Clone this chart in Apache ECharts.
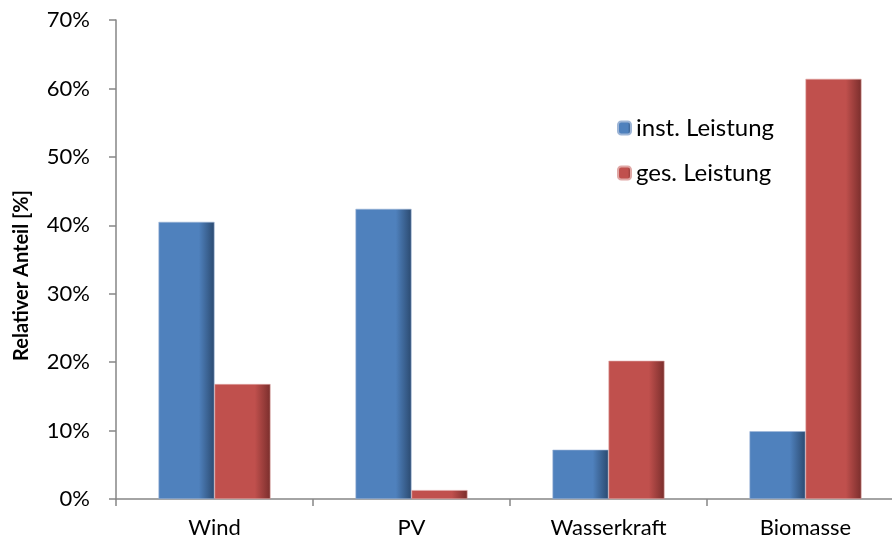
<!DOCTYPE html>
<html>
<head>
<meta charset="utf-8">
<script src="https://cdn.jsdelivr.net/npm/echarts@6/dist/echarts.min.js"></script>
<style>
  html, body { margin: 0; padding: 0; background: #ffffff; overflow: hidden; }
  #chart { width: 910px; height: 547px; }
</style>
</head>
<body>
<div id="chart"></div>
<script>
// Anteile der Energieträger (in %)
const categories = ['Wind', 'PV', 'Wasserkraft', 'Biomasse'];
const instLeistung = [40.5, 42.4, 7.2, 9.9];
const gesLeistung = [16.8, 1.3, 20.2, 61.4];
const seriesNames = ['inst. Leistung', 'ges. Leistung'];
const yTicks = [0, 10, 20, 30, 40, 50, 60, 70];

const FONT = 'Lato';

function shaded(base, dark) {
  return new echarts.graphic.LinearGradient(0, 0, 1, 0, [
    { offset: 0, color: base },
    { offset: 0.72, color: base },
    { offset: 1, color: dark }
  ]);
}

const chart = echarts.init(document.getElementById('chart'));
chart.setOption({
  animation: false,
  backgroundColor: '#ffffff',
  grid: { left: 116, top: 20, width: 788, bottom: 48 },
  legend: {
    orient: 'vertical',
    left: 612,
    top: 111,
    itemWidth: 13,
    itemHeight: 13,
    itemGap: 21,
    textStyle: { fontFamily: FONT, fontSize: 24, color: '#000000' },
    data: seriesNames
  },
  xAxis: {
    type: 'category',
    data: categories,
    axisLine: { lineStyle: { color: '#868686', width: 1.5 } },
    axisTick: { show: true, length: 7, lineStyle: { color: '#868686', width: 1.5 } },
    axisLabel: { fontFamily: FONT, fontSize: 22, color: '#000000', margin: 18 }
  },
  yAxis: {
    type: 'value',
    min: 0,
    max: 70,
    interval: 10,
    name: 'Relativer Anteil [%]',
    nameLocation: 'middle',
    nameGap: 84,
    nameRotate: 90,
    nameTextStyle: { fontFamily: FONT, fontSize: 20, fontWeight: 'bold', color: '#000000', padding: [0, 0, 0, -32] },
    splitLine: { show: false },
    axisLine: { show: true, lineStyle: { color: '#868686', width: 1.5 } },
    axisTick: { show: true, length: 7, lineStyle: { color: '#868686', width: 1.5 } },
    axisLabel: {
      fontFamily: FONT, fontSize: 22, color: '#000000', margin: 26,
      formatter: v => (yTicks.includes(v) ? v + '%' : '')
    }
  },
  series: [
    {
      name: seriesNames[0],
      type: 'bar',
      data: instLeistung,
      barWidth: 56,
      barGap: '0%',
      itemStyle: { color: shaded('#4F81BD', '#2B4A70'), borderColor: '#9DB5D6', borderWidth: 0.6 }
    },
    {
      name: seriesNames[1],
      type: 'bar',
      data: gesLeistung,
      barWidth: 56,
      barGap: '0%',
      itemStyle: { color: shaded('#C0504D', '#7A2E2C'), borderColor: '#E0A8A6', borderWidth: 0.6 }
    }
  ]
});
</script>
</body>
</html>
